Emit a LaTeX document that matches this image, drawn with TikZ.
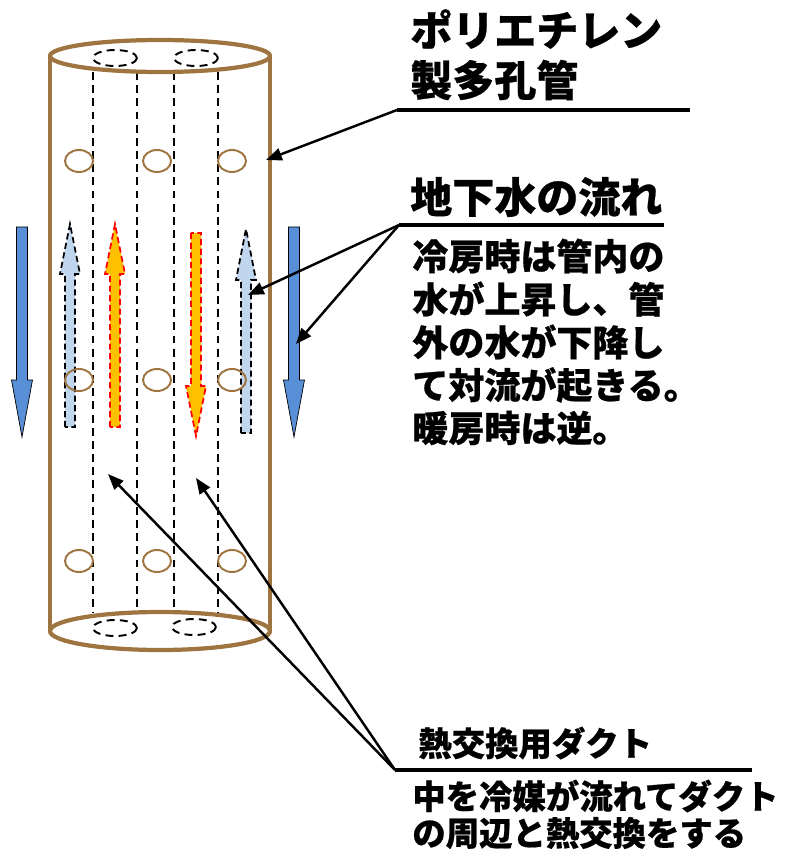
\documentclass[tikz,border=0pt]{standalone}
\usepackage{fontspec}
\newfontfamily\jp{Noto Sans CJK JP}[BoldFeatures={FakeBold=0.6}]
\usetikzlibrary{arrows.meta}
\definecolor{pipebrown}{RGB}{158,116,64}
\definecolor{waterblue}{RGB}{88,143,214}
\definecolor{ductblue}{RGB}{192,214,238}
\definecolor{ductorange}{RGB}{255,192,0}

% block arrow: style, x, tail y, neck y, tip y, half shaft, half head
\newcommand{\flowarrow}[7]{%
  \draw[#1] (#2-#6,#3) -- (#2-#6,#4) -- (#2-#7,#4) -- (#2,#5)
    -- (#2+#7,#4) -- (#2+#6,#4) -- (#2+#6,#3) -- cycle;}

\begin{document}
\begin{tikzpicture}[x=0.02cm, y=-0.02cm,
    every node/.style={inner sep=0pt, anchor=west},
    title/.style={font=\jp\bfseries\fontsize{23.9}{28}\selectfont},
    body/.style={font=\jp\bfseries\fontsize{20.5}{24}\selectfont},
    note/.style={font=\jp\bfseries\fontsize{19}{23}\selectfont},
    wall/.style={draw=pipebrown, line width=2.4pt},
    hole/.style={draw=pipebrown, line width=1.1pt},
    duct/.style={dash pattern=on 4.5pt off 3pt, line width=1.1pt},
    groundflow/.style={fill=waterblue},
    coolflow/.style={fill=ductblue, draw=black, dash pattern=on 3.5pt off 2pt, line width=1pt},
    warmflow/.style={fill=ductorange, draw=red, dash pattern=on 3.5pt off 2pt, line width=1pt},
    headline/.style={line width=1.8pt},
    leader/.style={-{Triangle[length=9pt,width=7pt]}, line width=1.4pt}]
  \useasboundingbox (0,0) rectangle (788,861);

  % ducts inside the pipe
  \foreach \x in {93,137,174,218}
    \draw[duct] (\x,72) -- (\x,613);
  \foreach \x/\y in {115/58, 196/58, 115/628, 194/627}
    \draw[duct] (\x,\y) ellipse [x radius=22, y radius=8];

  % flows
  \flowarrow{groundflow}{22}{227}{380}{437}{5.5}{10.5}
  \flowarrow{groundflow}{294}{227}{380}{437}{5.5}{10.5}
  \flowarrow{coolflow}{70}{427}{274}{224}{5}{10}
  \flowarrow{coolflow}{246}{433}{280}{229}{5}{10}
  \flowarrow{warmflow}{115}{427}{274}{224}{5}{10}
  \flowarrow{warmflow}{196}{233}{386}{436}{5}{10}

  % pipe wall and holes
  \draw[wall] (50,56) -- (50,631);
  \draw[wall] (270,56) -- (270,631);
  \draw[wall] (160,56) ellipse [x radius=110, y radius=16];
  \draw[wall] (160,631) ellipse [x radius=110, y radius=19];
  \foreach \y in {161,380,561}
    \foreach \x in {79,157,232}
      \draw[hole] (\x,\y) ellipse [x radius=14, y radius=11];

  % pipe label
  \node[title] (pe) at (410,29) {ポリエチレン};
  \node[title] (pe-2) at (410,80) {製多孔管};
  \coordinate (pe-rule) at (397,110);
  \coordinate (pe-rule-end) at (690,110);
  \draw[headline] (pe-rule) -- (pe-rule-end);
  \coordinate (pipe-wall) at (266,160);
  \draw[leader] (pe-rule) -- (pipe-wall);

  % groundwater label
  \node[title] (gw) at (410,197) {地下水の流れ};
  \coordinate (gw-rule) at (399,225);
  \coordinate (gw-rule-end) at (664,225);
  \draw[headline] (gw-rule) -- (gw-rule-end);
  \foreach \t [count=\i from 0] in {冷房時は管内の, 水が上昇し、管, 外の水が下降し, て対流が起きる。, 暖房時は逆。}
    \node[body] (gw-\i) at (412,256+43*\i) {\t};
  \coordinate (duct-flow) at (248,295);
  \coordinate (ground-flow) at (296,344);
  \draw[leader] (gw-rule) -- (duct-flow);
  \draw[leader] (gw-rule) -- (ground-flow);

  % duct label
  \node[note] (hx) at (418,743) {熱交換用ダクト};
  \coordinate (hx-rule) at (395,770);
  \coordinate (hx-rule-end) at (752,770);
  \draw[headline] (hx-rule) -- (hx-rule-end);
  \node[note] (hx-1) at (412,796) {中を冷媒が流れてダクト};
  \node[note] (hx-2) at (412,833) {の周辺と熱交換をする};
  \coordinate (duct-a) at (108,474);
  \coordinate (duct-b) at (196,478);
  \draw[leader] (hx-rule) -- (duct-a);
  \draw[leader] (hx-rule) -- (duct-b);
\end{tikzpicture}
\end{document}
